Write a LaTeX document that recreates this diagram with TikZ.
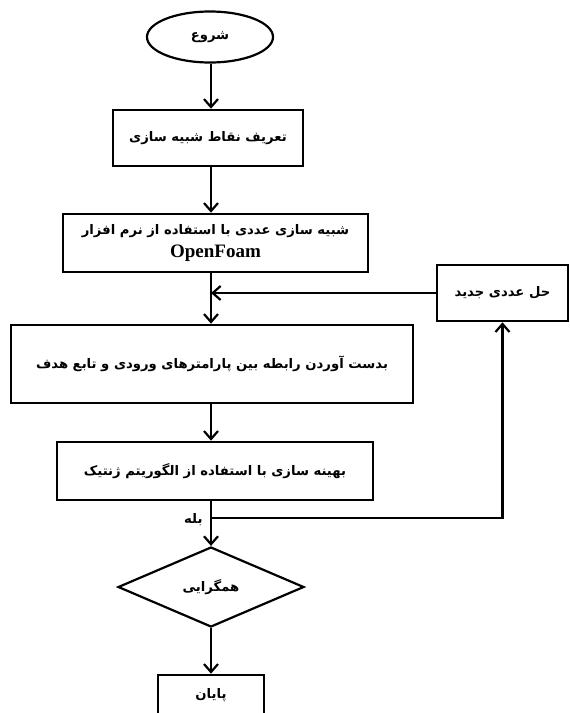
\documentclass[tikz,border=0pt]{standalone}
\usepackage{fontspec}
\usetikzlibrary{shapes.geometric,arrows.meta}
\TeXXeTstate=1
\newfontfamily\arabicfont[Script=Arabic]{DejaVu Sans}
\newfontfamily\latinbold{Liberation Serif}
\begin{document}
\begin{tikzpicture}[x=1pt,y=-1pt,
  box/.style={draw,line width=2.6pt,rectangle,inner sep=0pt},
  lbl/.style={font=\arabicfont\bfseries\fontsize{13.2}{15}\selectfont},
  arr/.style={line width=2.2pt,-{Straight Barb[length=8pt,width=14pt,line width=2.2pt]}},
  ln/.style={line width=2.2pt}]
\useasboundingbox (0,0) rectangle (570,713);
\coordinate (col) at (211,0);
\node[draw,line width=2.2pt,ellipse,minimum width=126pt,minimum height=51pt,inner sep=0pt,lbl] (s) at (210,37) {\beginR شروع\endR};
\node[box,minimum width=190pt,minimum height=56pt,lbl] (b1) at (208,138) {\beginR تعریف نقاط شبیه سازی\endR};
\node[box,minimum width=305pt,minimum height=58pt,lbl,align=center,inner sep=0pt] (b2) at (215.5,243) {\beginR شبیه سازی عددی  با استفاده از نرم افزار\endR\\[7pt]{\latinbold\bfseries\fontsize{19}{20}\selectfont OpenFoam}};
\node[box,minimum width=131pt,minimum height=56pt,lbl] (rb) at (502.5,293) {\beginR حل عددی جدید\endR};
\node[box,minimum width=402pt,minimum height=78pt,lbl] (b3) at (212,364) {\beginR بدست آوردن رابطه بین پارامترهای ورودی و تابع هدف\endR};
\node[box,minimum width=316pt,minimum height=58pt,lbl] (b4) at (215,471) {\beginR بهینه سازی با استفاده از  الگوریتم ژنتیک\endR};
\node[draw,line width=2.2pt,diamond,minimum width=186pt,minimum height=80pt,shape aspect=2.3,inner sep=0pt,lbl] (d) at (211,587) {\beginR همگرایی\endR};
\node[box,minimum width=106pt,minimum height=50pt] (e) at (211,700) {};
\node[lbl] (et) at (211,695) {\beginR پایان\endR};
\coordinate (j) at (col |- rb.west);
\coordinate (y) at (211,518);
\node[lbl,anchor=east] (yl) at (206,520) {\beginR بله\endR};
\draw[arr] (col |- s.south) -- (col |- b1.north);
\draw[arr] (col |- b1.south) -- (col |- b2.north);
\draw[arr] (col |- b2.south) -- (col |- b3.north);
\draw[arr] (rb.west) -- (j);
\draw[arr] (col |- b3.south) -- (col |- b4.north);
\draw[arr] (col |- b4.south) -- (d.north);
\draw[arr] (y) -| (rb.south);
\draw[arr] (d.south) -- (e.north);
\end{tikzpicture}
\end{document}
